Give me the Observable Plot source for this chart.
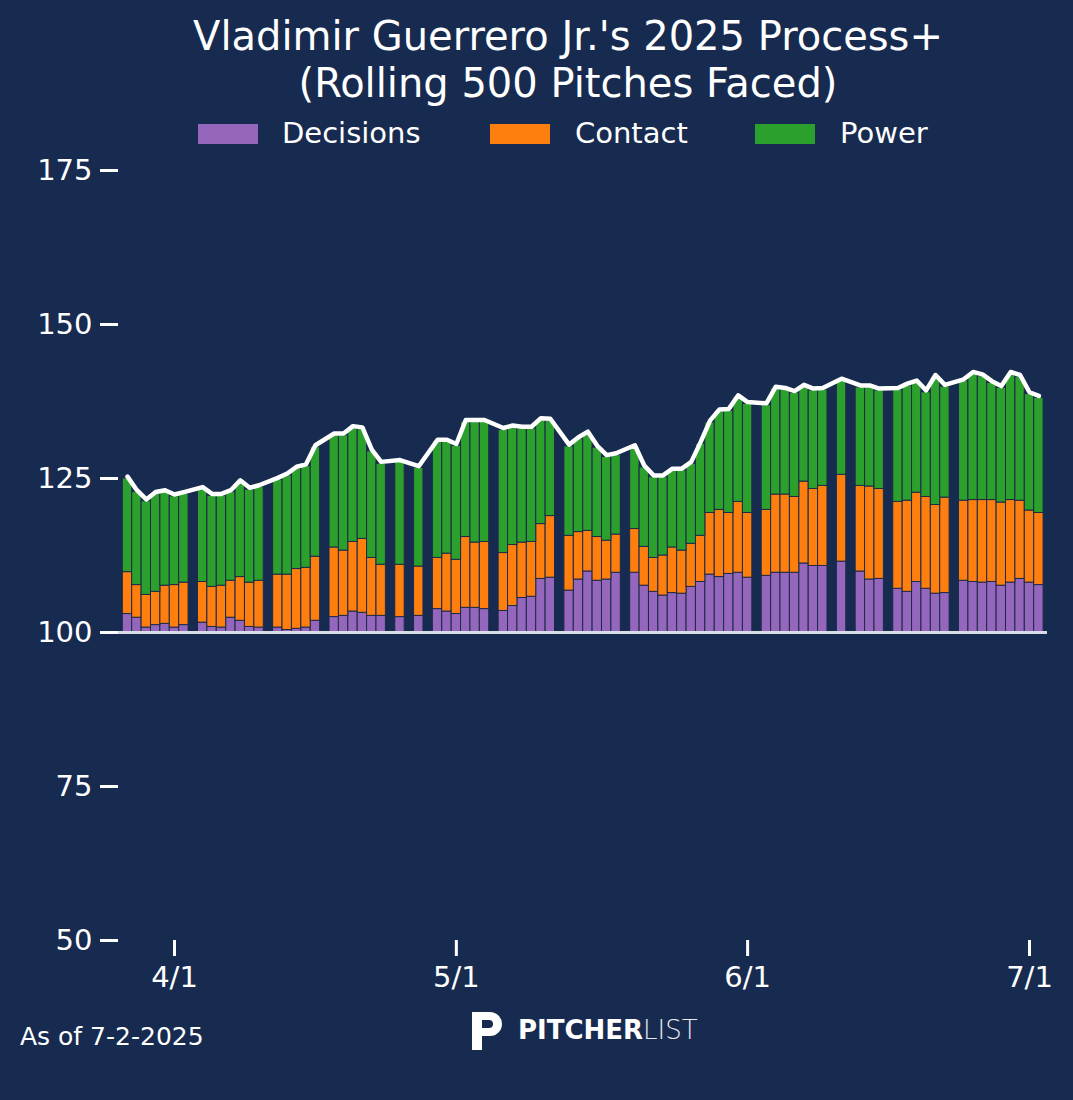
<!DOCTYPE html>
<html><head><meta charset="utf-8">
<script src="https://cdn.jsdelivr.net/npm/d3@7"></script>
<script src="https://cdn.jsdelivr.net/npm/@observablehq/plot@0.6"></script>
<style>
body{margin:0;background:#172b50;width:1073px;height:1100px;position:relative;overflow:hidden;font-family:"DejaVu Sans",sans-serif;color:#fff}
#title{position:absolute;top:13px;left:0;width:1136px;text-align:center;font-size:40px;line-height:47px}
#legend{position:absolute;top:116px;left:0;width:1073px;font-size:29px}
.sw{position:absolute;top:8px;width:60px;height:20px}
.lt{position:absolute;top:0}
#chart{position:absolute;top:150px;left:0}
#asof{position:absolute;left:20px;top:1022px;font-size:25px}
#logo{position:absolute;left:468px;top:1008px;font-size:26px;display:flex;align-items:center}
</style></head><body>
<div id="title">Vladimir Guerrero Jr.'s 2025 Process+<br>(Rolling 500 Pitches Faced)</div>
<div id="legend">
<div class="sw" style="left:198px;background:#9467bd"></div><div class="lt" style="left:282px">Decisions</div>
<div class="sw" style="left:490px;background:#ff7f0e"></div><div class="lt" style="left:575px">Contact</div>
<div class="sw" style="left:755px;background:#2ca02c"></div><div class="lt" style="left:840px">Power</div>
</div>
<div id="chart"></div>
<div id="asof">As of 7-2-2025</div>
<div id="logo"><svg width="40" height="44" viewBox="0 0 40 44"><path d="M4 4 H22 A12 12 0 0 1 22 28 H14 V42 H4 Z M14 12 V20 H21 A4 4 0 0 0 21 12 Z" fill="#fff"/></svg><span style="margin-left:10px;font-weight:bold">PITCHER</span><span style="font-weight:300;opacity:0.9">LIST</span></div>
<script>
const dates = ["2025-03-27","2025-03-28","2025-03-29","2025-03-30","2025-03-31","2025-04-01","2025-04-02",
"2025-04-04","2025-04-05","2025-04-06","2025-04-07","2025-04-08","2025-04-09","2025-04-10",
"2025-04-12","2025-04-13","2025-04-14","2025-04-15","2025-04-16",
"2025-04-18","2025-04-19","2025-04-20","2025-04-21","2025-04-22","2025-04-23",
"2025-04-25","2025-04-27",
"2025-04-29","2025-04-30","2025-05-01","2025-05-02","2025-05-03","2025-05-04",
"2025-05-06","2025-05-07","2025-05-08","2025-05-09","2025-05-10","2025-05-11",
"2025-05-13","2025-05-14","2025-05-15","2025-05-16","2025-05-17","2025-05-18",
"2025-05-20","2025-05-21","2025-05-22","2025-05-23","2025-05-24","2025-05-25","2025-05-26","2025-05-27","2025-05-28","2025-05-29","2025-05-30","2025-05-31","2025-06-01",
"2025-06-03","2025-06-04","2025-06-05","2025-06-06","2025-06-07","2025-06-08","2025-06-09",
"2025-06-11",
"2025-06-13","2025-06-14","2025-06-15",
"2025-06-17","2025-06-18","2025-06-19","2025-06-20","2025-06-21","2025-06-22",
"2025-06-24","2025-06-25","2025-06-26","2025-06-27","2025-06-28","2025-06-29","2025-06-30","2025-07-01","2025-07-02"];
// cumulative tops of each segment
const decisions = [103.0,102.4,100.8,101.2,101.4,100.8,101.2,
101.6,100.9,100.8,102.4,101.9,100.9,100.8,
100.8,100.4,100.6,100.8,101.9,
102.5,102.7,103.4,103.2,102.7,102.7,
102.5,102.7,
103.8,103.4,103.0,104.0,104.0,103.8,
103.5,104.3,105.6,105.8,108.7,108.9,
106.8,108.6,109.9,108.4,108.6,109.7,
109.7,107.6,106.6,106.0,106.4,106.3,107.4,108.2,109.4,109.0,109.5,109.7,108.9,
109.2,109.7,109.7,109.7,111.2,110.8,110.8,
111.5,
109.9,108.6,108.7,
107.1,106.6,108.2,107.1,106.3,106.4,
108.4,108.2,108.1,108.2,107.6,108.1,108.7,108.1,107.7];
const contact = [109.8,107.7,106.1,106.6,107.6,107.7,108.1,
108.2,107.4,107.6,108.4,109.0,108.1,108.4,
109.4,109.4,110.3,110.5,112.3,
113.8,113.3,114.7,115.2,112.1,111.0,
111.0,110.7,
112.1,112.8,111.8,115.5,114.6,114.7,
112.9,114.2,114.6,114.7,117.6,118.9,
115.7,116.3,116.5,115.5,114.9,115.9,
116.8,113.9,112.1,112.5,113.8,113.3,114.4,115.7,119.4,119.9,119.4,121.2,119.4,
119.9,122.4,122.4,122.0,124.5,123.3,123.8,
125.6,
123.8,123.7,123.3,
121.2,121.4,122.7,122.0,120.7,121.9,
121.4,121.5,121.5,121.5,121.1,121.5,121.4,119.8,119.4];
const power = [125.0,122.8,121.3,122.5,122.8,122.1,122.5,
123.3,122.2,122.2,122.8,124.4,123.2,123.6,
124.8,125.5,126.6,127.0,130.1,
132.0,132.0,133.2,133.0,129.4,127.4,
127.7,126.7,
131.0,131.0,130.3,134.2,134.2,134.2,
132.9,133.3,133.1,133.1,134.5,134.4,
130.2,131.4,132.3,130.0,128.5,128.8,
130.1,126.8,125.2,125.2,126.3,126.3,127.4,130.6,134.1,135.9,136.0,138.2,137.1,
136.9,139.6,139.4,138.9,139.9,139.3,139.4,
140.9,
139.8,139.8,139.3,
139.4,140.1,140.6,139.0,141.5,139.9,
140.8,142.0,141.6,140.5,139.7,142.0,141.5,138.7,138.1];
const yTicks = [50,75,100,125,150,175];
const xTicks = ["2025-04-01","2025-05-01","2025-06-01","2025-07-01"];

const day = 864e5;
const rows = dates.map((d,i)=>({date:new Date(d), dec:decisions[i], con:contact[i], pow:power[i]}));
const x1 = r => new Date(+r.date - day*0.5), x2 = r => new Date(+r.date + day*0.5);
const stroke = "#1c2a4a";
const chart = Plot.plot({
  width:1073, height:950,
  marginTop:20, marginBottom:160, marginLeft:118, marginRight:26,
  style:{background:"transparent", color:"#fff", fontSize:"29px", fontFamily:"DejaVu Sans, sans-serif"},
  x:{type:"utc", domain:[new Date(Date.UTC(2025,2,26,1)), new Date(Date.UTC(2025,6,2,22))], label:null},
  y:{domain:[50,175], label:null},
  marks:[
    Plot.rect(rows,{x1, x2, y1:()=>100, y2:"dec", fill:"#9467bd", stroke, strokeWidth:1}),
    Plot.rect(rows,{x1, x2, y1:"dec", y2:"con", fill:"#ff7f0e", stroke, strokeWidth:1}),
    Plot.rect(rows,{x1, x2, y1:"con", y2:"pow", fill:"#2ca02c", stroke, strokeWidth:1}),
    Plot.ruleY([100],{stroke:"#d8dce6", strokeWidth:3}),
    Plot.line(rows,{x:"date", y:d=>d.pow+0.3, stroke:"#fff", strokeWidth:4.5, strokeLinejoin:"round"}),
    Plot.axisY({ticks:yTicks, tickSize:18, tickPadding:8, strokeWidth:3, fontSize:29}),
    Plot.axisX({ticks:xTicks.map(d=>new Date(d)), tickFormat:d3.utcFormat("%-m/%-d"), tickSize:16, tickPadding:10, strokeWidth:3, fontSize:29})
  ]
});
document.getElementById("chart").appendChild(chart);
</script></body></html>
